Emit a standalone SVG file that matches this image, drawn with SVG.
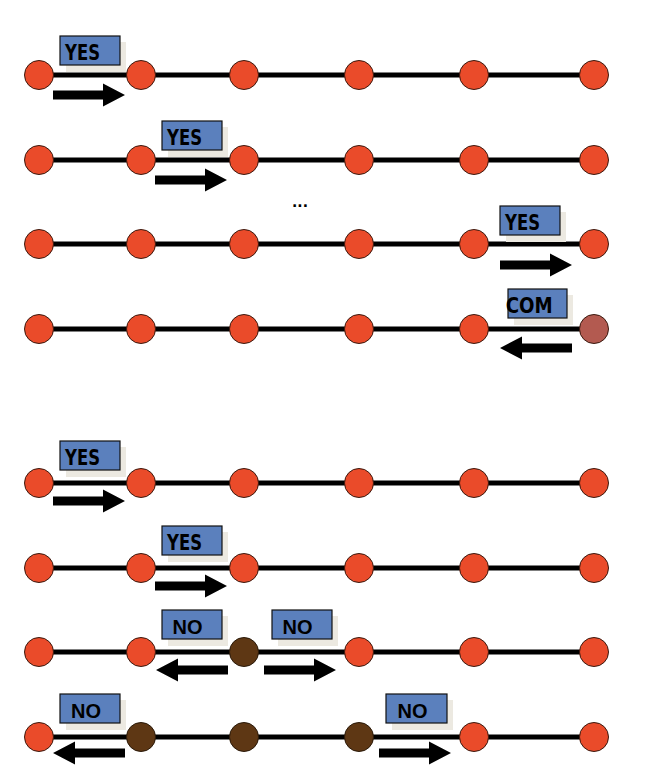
<svg xmlns="http://www.w3.org/2000/svg" xmlns:xlink="http://www.w3.org/1999/xlink" width="648" height="780" viewBox="0 0 648 780">
<style>
.ln{stroke:#000;stroke-width:5}
.n{fill:#EA4B2A;stroke:#3a1a10;stroke-width:1}
.b{fill:#5E3714;stroke:#2a1a0a;stroke-width:1}
.c{fill:#B35A50;stroke:#3a1a10;stroke-width:1}
.sh{fill:#ECE9E1}
.bx{fill:#5B80BD;stroke:#111;stroke-width:1.2}
.t{font-family:"DejaVu Sans Condensed","DejaVu Sans",Verdana,sans-serif;font-weight:bold;font-size:21px;fill:#000}
.t2{font-family:"Liberation Sans",Arial,sans-serif;font-weight:bold;font-size:20px;fill:#000}
.ar{fill:#000}
</style>
<defs>
<path id="arr" d="M0,-4.5 H50 V-11.5 L72,0 L50,11.5 V4.5 H0 Z"/>
</defs>
<g id="connectors">
<line class="ln" x1="39" y1="75" x2="594" y2="75"/>
<line class="ln" x1="39" y1="160" x2="594" y2="160"/>
<line class="ln" x1="39" y1="244" x2="594" y2="244"/>
<line class="ln" x1="39" y1="329" x2="594" y2="329"/>
<line class="ln" x1="39" y1="483" x2="594" y2="483"/>
<line class="ln" x1="39" y1="568" x2="594" y2="568"/>
<line class="ln" x1="39" y1="652" x2="594" y2="652"/>
<line class="ln" x1="39" y1="737" x2="594" y2="737"/>
</g>
<g id="arrows" class="ar">
<use xlink:href="#arr" transform="translate(53,95)"/>
<use xlink:href="#arr" transform="translate(155,180)"/>
<use xlink:href="#arr" transform="translate(500,265)"/>
<use xlink:href="#arr" transform="translate(572,348) scale(-1,1)"/>
<use xlink:href="#arr" transform="translate(53,501)"/>
<use xlink:href="#arr" transform="translate(155,586)"/>
<use xlink:href="#arr" transform="translate(228,670) scale(-1,1)"/>
<use xlink:href="#arr" transform="translate(264,670)"/>
<use xlink:href="#arr" transform="translate(125,753) scale(-1,1)"/>
<use xlink:href="#arr" transform="translate(379,753)"/>
</g>
<g id="labels">
<g id="l1"><rect class="sh" x="66" y="42" width="60" height="30"/><rect class="bx" x="60" y="36" width="60" height="29"/><text class="t" x="65" y="60.3" textLength="35" lengthAdjust="spacingAndGlyphs">YES</text></g>
<g id="l2"><rect class="sh" x="168" y="127" width="60" height="30"/><rect class="bx" x="162" y="121" width="60" height="29"/><text class="t" x="167" y="145.3" textLength="35" lengthAdjust="spacingAndGlyphs">YES</text></g>
<g id="l3"><rect class="sh" x="506" y="212" width="60" height="30"/><rect class="bx" x="500" y="206" width="60" height="29"/><text class="t" x="505" y="230.3" textLength="35" lengthAdjust="spacingAndGlyphs">YES</text></g>
<g id="l4"><rect class="sh" x="514" y="295" width="59" height="30"/><rect class="bx" x="508" y="289" width="59" height="29"/><text class="t" x="505.7" y="313.3" textLength="47" lengthAdjust="spacingAndGlyphs">COM</text></g>
<g id="l5"><rect class="sh" x="66" y="447" width="60" height="30"/><rect class="bx" x="60" y="441" width="60" height="29"/><text class="t" x="65" y="465.3" textLength="35" lengthAdjust="spacingAndGlyphs">YES</text></g>
<g id="l6"><rect class="sh" x="168" y="532" width="60" height="30"/><rect class="bx" x="162" y="526" width="60" height="29"/><text class="t" x="167" y="550.3" textLength="35" lengthAdjust="spacingAndGlyphs">YES</text></g>
<g id="l7"><rect class="sh" x="168" y="616" width="60" height="30"/><rect class="bx" x="162" y="610" width="60" height="29"/><text class="t2" x="172.5" y="633.5">NO</text></g>
<g id="l8"><rect class="sh" x="278" y="616" width="60" height="30"/><rect class="bx" x="272" y="610" width="60" height="29"/><text class="t2" x="282.5" y="633.5">NO</text></g>
<g id="l9"><rect class="sh" x="66" y="700" width="60" height="30"/><rect class="bx" x="60" y="694" width="60" height="29"/><text class="t2" x="71" y="717.5">NO</text></g>
<g id="l10"><rect class="sh" x="392" y="700" width="61" height="30"/><rect class="bx" x="386" y="694" width="61" height="29"/><text class="t2" x="397.5" y="717.5">NO</text></g>
<text id="dots" x="300" y="207" text-anchor="middle" style="font-family:'DejaVu Sans',sans-serif;font-weight:bold;font-size:14px">...</text>
</g>
<g id="r1"><circle id="r1n1" class="n" cx="39" cy="75" r="14.5"/><circle id="r1n2" class="n" cx="141" cy="75" r="14.5"/><circle id="r1n3" class="n" cx="244" cy="75" r="14.5"/><circle id="r1n4" class="n" cx="359" cy="75" r="14.5"/><circle id="r1n5" class="n" cx="474" cy="75" r="14.5"/><circle id="r1n6" class="n" cx="594" cy="75" r="14.5"/></g>
<g id="r2"><circle id="r2n1" class="n" cx="39" cy="160" r="14.5"/><circle id="r2n2" class="n" cx="141" cy="160" r="14.5"/><circle id="r2n3" class="n" cx="244" cy="160" r="14.5"/><circle id="r2n4" class="n" cx="359" cy="160" r="14.5"/><circle id="r2n5" class="n" cx="474" cy="160" r="14.5"/><circle id="r2n6" class="n" cx="594" cy="160" r="14.5"/></g>
<g id="r3"><circle id="r3n1" class="n" cx="39" cy="244" r="14.5"/><circle id="r3n2" class="n" cx="141" cy="244" r="14.5"/><circle id="r3n3" class="n" cx="244" cy="244" r="14.5"/><circle id="r3n4" class="n" cx="359" cy="244" r="14.5"/><circle id="r3n5" class="n" cx="474" cy="244" r="14.5"/><circle id="r3n6" class="n" cx="594" cy="244" r="14.5"/></g>
<g id="r4"><circle id="r4n1" class="n" cx="39" cy="329" r="14.5"/><circle id="r4n2" class="n" cx="141" cy="329" r="14.5"/><circle id="r4n3" class="n" cx="244" cy="329" r="14.5"/><circle id="r4n4" class="n" cx="359" cy="329" r="14.5"/><circle id="r4n5" class="n" cx="474" cy="329" r="14.5"/><circle id="r4n6" class="c" cx="594" cy="329" r="14.5"/></g>
<g id="r5"><circle id="r5n1" class="n" cx="39" cy="483" r="14.5"/><circle id="r5n2" class="n" cx="141" cy="483" r="14.5"/><circle id="r5n3" class="n" cx="244" cy="483" r="14.5"/><circle id="r5n4" class="n" cx="359" cy="483" r="14.5"/><circle id="r5n5" class="n" cx="474" cy="483" r="14.5"/><circle id="r5n6" class="n" cx="594" cy="483" r="14.5"/></g>
<g id="r6"><circle id="r6n1" class="n" cx="39" cy="568" r="14.5"/><circle id="r6n2" class="n" cx="141" cy="568" r="14.5"/><circle id="r6n3" class="n" cx="244" cy="568" r="14.5"/><circle id="r6n4" class="n" cx="359" cy="568" r="14.5"/><circle id="r6n5" class="n" cx="474" cy="568" r="14.5"/><circle id="r6n6" class="n" cx="594" cy="568" r="14.5"/></g>
<g id="r7"><circle id="r7n1" class="n" cx="39" cy="652" r="14.5"/><circle id="r7n2" class="n" cx="141" cy="652" r="14.5"/><circle id="r7n3" class="b" cx="244" cy="652" r="14.5"/><circle id="r7n4" class="n" cx="359" cy="652" r="14.5"/><circle id="r7n5" class="n" cx="474" cy="652" r="14.5"/><circle id="r7n6" class="n" cx="594" cy="652" r="14.5"/></g>
<g id="r8"><circle id="r8n1" class="n" cx="39" cy="737" r="14.5"/><circle id="r8n2" class="b" cx="141" cy="737" r="14.5"/><circle id="r8n3" class="b" cx="244" cy="737" r="14.5"/><circle id="r8n4" class="b" cx="359" cy="737" r="14.5"/><circle id="r8n5" class="n" cx="474" cy="737" r="14.5"/><circle id="r8n6" class="n" cx="594" cy="737" r="14.5"/></g>
</svg>
